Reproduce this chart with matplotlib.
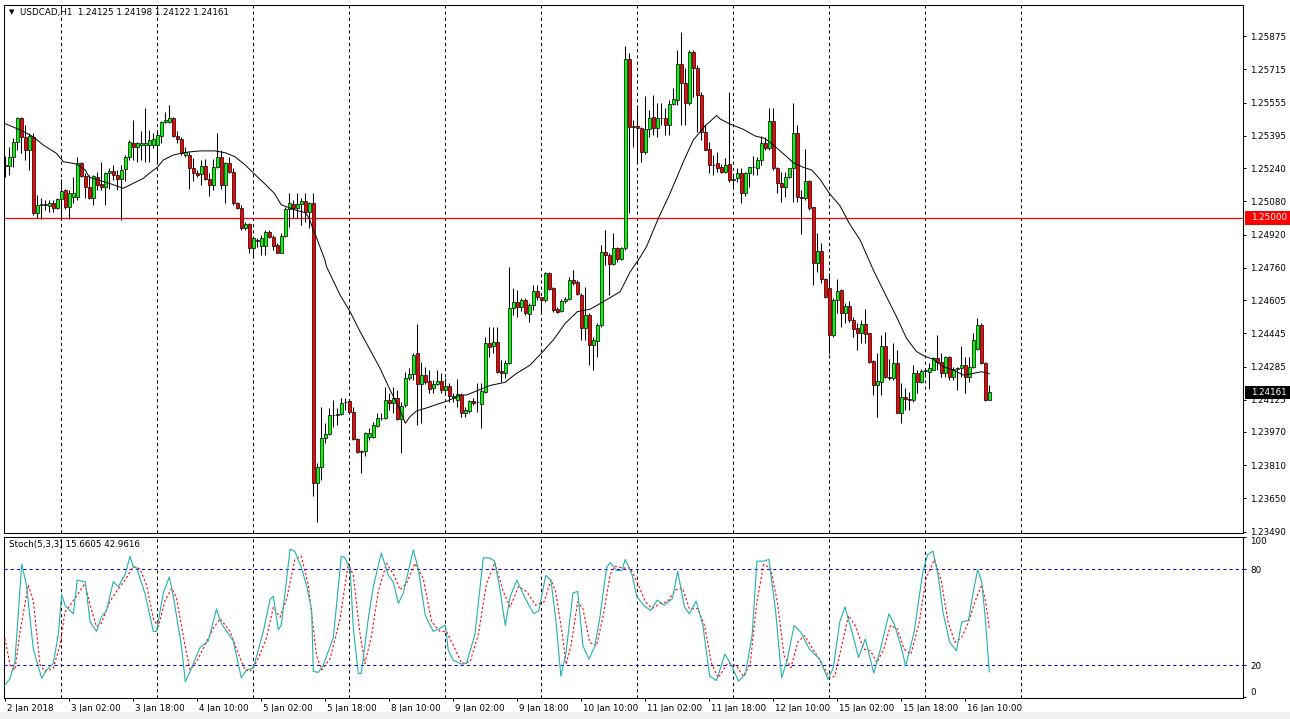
import numpy as np
import matplotlib
matplotlib.use("Agg")
import matplotlib.pyplot as plt
from matplotlib.patches import Rectangle
from matplotlib.transforms import blended_transform_factory, ScaledTranslation

plt.rcParams['font.family'] = ['DejaVu Sans']
plt.rcParams['font.size'] = 6.3

# USDCAD H1, 2 Jan 10:00 .. 16 Jan 16:00 (one entry per hourly bar)
# prices are kept in pips (0.0001) relative to the 1.25000 level
LEVEL = 1.25

open_pips = [
    25.6, 25.0, 29.2, 36.4, 48.0, 39.1, 32.7, 39.1, 2.2, 6.3,
    6.5, 5.8, 7.4, 5.0, 9.1, 13.5, 5.5, 9.9, 10.3, 26.6,
    20.2, 14.8, 9.5, 19.6, 16.2, 15.1, 21.5, 22.6, 20.7, 18.6,
    23.4, 29.5, 36.3, 34.3, 35.0, 35.1, 35.1, 35.1, 35.1, 39.6,
    46.0, 46.4, 48.0, 39.5, 37.9, 30.3, 30.3, 23.9, 21.5, 21.2,
    25.0, 18.6, 15.9, 24.4, 29.2, 15.9, 26.3, 22.3, 7.1, 4.7,
    -5.0, -2.9, -14.6, -10.6, -13.3, -13.3, -6.9, -9.0, -13.0, -16.7,
    -8.5, 4.2, 6.6, 4.7, 6.6, 8.2, 3.0, 7.1, -127.7, -119.7,
    -106.1, -104.0, -94.8, -94.8, -94.3, -88.4, -88.1, -93.5, -106.5, -112.5,
    -112.0, -105.2, -105.2, -99.9, -96.4, -96.4, -87.6, -89.0, -86.8, -96.9,
    -90.0, -77.2, -75.3, -65.2, -79.9, -75.5, -78.5, -81.9, -79.9, -78.5,
    -82.8, -80.7, -86.6, -87.6, -85.2, -93.7, -92.8, -88.1, -88.8, -89.7,
    -83.6, -60.3, -61.6, -59.5, -73.6, -74.5, -70.0, -43.5, -40.3, -43.0,
    -39.5, -46.2, -41.9, -35.0, -38.2, -39.5, -26.6, -33.9, -44.0, -44.6,
    -40.1, -39.2, -29.8, -30.8, -37.1, -53.1, -46.7, -61.1, -59.1, -51.7,
    -16.2, -17.8, -22.3, -14.6, -19.9, -14.6, 76.4, 44.0, 44.3, 43.2,
    31.9, 42.7, 48.8, 43.2, 48.0, 48.0, 44.8, 54.7, 56.8, 73.9,
    65.2, 55.2, 80.0, 72.0, 59.2, 41.6, 33.2, 25.5, 26.3, 24.4,
    22.3, 25.8, 18.3, 19.1, 21.5, 11.9, 21.5, 24.4, 23.9, 27.9,
    36.3, 33.5, 46.7, 23.9, 16.7, 15.1, 19.6, 23.9, 41.1, 10.3,
    9.5, 18.0, 5.1, -21.5, -15.9, -29.5, -33.9, -56.3, -39.5, -34.7,
    -45.9, -42.4, -49.1, -53.1, -55.2, -51.0, -55.5, -68.8, -80.4, -78.8,
    -61.6, -76.7, -77.2, -70.0, -93.7, -86.3, -87.3, -87.6, -74.8, -78.8,
    -73.5, -74.0, -73.2, -67.6, -69.5, -74.8, -66.7, -76.7, -72.8, -72.4,
    -70.8, -76.7, -71.9, -62.9, -51.5, -70.0, -87.5,
]
high_pips = [
    30.0, 34.3, 38.3, 48.8, 48.8, 44.8, 40.8, 40.8, 11.1, 9.8,
    8.7, 8.7, 8.7, 9.8, 18.8, 14.1, 13.5, 19.6, 29.5, 27.1,
    21.5, 20.7, 20.7, 22.3, 27.1, 22.3, 23.9, 25.5, 23.1, 25.5,
    30.3, 37.6, 47.2, 36.7, 41.7, 52.9, 42.4, 40.8, 42.4, 46.8,
    51.2, 54.5, 48.8, 41.7, 39.1, 34.3, 31.9, 28.7, 23.1, 27.9,
    28.6, 21.5, 28.6, 41.1, 32.7, 27.1, 29.5, 23.9, 7.9, 6.3,
    -1.8, -2.6, -9.0, -9.8, -8.2, -5.8, -5.8, -8.2, -12.2, -7.4,
    5.5, 11.9, 8.7, 11.9, 9.5, 11.9, 7.9, 11.9, -118.1, -90.8,
    -98.8, -91.6, -87.6, -91.6, -86.8, -86.8, -87.6, -90.8, -106.1, -111.7,
    -102.8, -101.2, -98.0, -94.0, -94.0, -81.2, -84.4, -81.2, -82.8, -88.4,
    -74.0, -72.4, -65.2, -51.0, -69.2, -71.6, -73.2, -78.0, -73.2, -74.8,
    -77.2, -79.6, -84.4, -77.7, -84.4, -90.8, -87.6, -86.8, -79.6, -79.6,
    -57.1, -52.3, -52.3, -52.3, -68.4, -68.4, -23.4, -33.9, -34.7, -38.7,
    -38.7, -41.1, -32.3, -32.3, -37.9, -25.8, -25.8, -33.1, -42.7, -39.1,
    -37.9, -28.2, -25.0, -29.8, -36.3, -33.1, -45.9, -57.1, -50.7, -13.0,
    -5.8, -17.0, -7.4, -13.8, -13.8, 82.8, 79.3, 47.2, 53.6, 44.0,
    58.7, 52.0, 59.2, 55.5, 55.5, 52.9, 56.8, 62.4, 80.8, 89.7,
    72.0, 80.8, 80.8, 73.6, 60.8, 44.8, 36.6, 30.3, 32.0, 26.0,
    28.7, 60.8, 21.5, 23.9, 23.9, 22.3, 24.7, 29.8, 29.5, 39.5,
    39.1, 52.8, 52.8, 24.7, 22.3, 22.3, 23.9, 55.2, 44.8, 13.5,
    33.1, 18.3, 5.5, -7.4, -12.2, -29.0, -26.3, -38.7, -29.5, -34.3,
    -41.1, -39.8, -47.5, -50.7, -49.1, -44.0, -55.2, -68.4, -65.1, -56.3,
    -54.7, -68.0, -60.3, -63.5, -79.6, -82.0, -83.8, -70.8, -73.2, -72.8,
    -72.8, -70.0, -67.1, -56.3, -65.1, -66.4, -66.4, -71.6, -71.6, -61.6,
    -66.7, -66.7, -55.2, -48.3, -50.7, -69.5, -80.2,
]
low_pips = [
    19.5, 20.7, 24.7, 32.7, 31.1, 27.9, 23.1, 1.4, -0.2, -0.5,
    3.9, 3.0, 3.0, 4.5, -0.2, 4.5, -0.6, 7.1, 8.7, 19.9,
    9.5, 9.0, 6.3, 13.5, 13.5, 6.3, 14.1, 18.3, 13.5, -1.0,
    17.6, 28.1, 28.1, 27.1, 27.9, 27.1, 27.1, 33.7, 27.1, 35.9,
    45.6, 45.6, 39.1, 35.9, 30.3, 29.5, 14.1, 17.6, 19.6, 15.9,
    18.3, 10.6, 13.5, 23.9, 14.0, 7.1, 21.5, 6.3, 4.2, -5.8,
    -5.8, -17.0, -19.4, -13.8, -17.6, -17.6, -9.8, -15.4, -17.0, -17.0,
    -9.0, -4.2, -0.2, -0.2, -3.4, -1.8, -5.0, -134.0, -146.2, -126.1,
    -108.5, -104.4, -100.4, -99.6, -94.8, -92.4, -94.0, -106.8, -113.3, -122.9,
    -114.5, -106.8, -106.1, -100.4, -97.2, -96.9, -92.4, -94.0, -97.2, -113.3,
    -90.8, -78.0, -78.0, -99.6, -98.8, -79.9, -84.4, -84.4, -80.4, -84.4,
    -84.4, -88.4, -88.4, -91.2, -95.7, -96.0, -93.7, -90.0, -93.2, -100.9,
    -84.4, -66.7, -65.1, -74.8, -78.8, -77.2, -70.3, -46.7, -47.5, -44.6,
    -46.7, -49.9, -44.3, -39.5, -45.1, -40.3, -34.7, -45.1, -45.9, -45.1,
    -40.7, -39.5, -32.3, -37.1, -58.8, -58.8, -70.8, -73.2, -66.7, -52.3,
    -22.6, -37.1, -22.6, -21.0, -20.2, -15.4, 2.2, 34.3, 27.1, 27.1,
    31.0, 38.8, 40.0, 38.8, 44.8, 40.0, 40.0, 54.4, 54.4, 44.8,
    44.8, 54.4, 58.4, 41.6, 37.6, 32.7, 21.5, 20.7, 22.3, 21.5,
    21.5, 17.5, 15.1, 17.5, 7.4, 10.6, 15.1, 20.7, 20.7, 25.5,
    32.7, 32.7, 23.1, 12.2, 7.9, 9.9, 19.1, 7.9, 7.9, -7.7,
    8.7, 3.9, -32.3, -25.8, -31.1, -38.7, -65.5, -57.1, -45.6, -52.6,
    -50.7, -50.2, -57.1, -63.5, -60.3, -60.3, -70.0, -85.2, -95.9, -85.2,
    -77.2, -78.0, -78.0, -94.0, -98.5, -92.4, -92.4, -88.4, -84.4, -79.6,
    -76.4, -82.5, -73.2, -73.2, -76.4, -76.4, -78.0, -78.0, -82.8, -76.4,
    -84.1, -78.8, -72.2, -63.5, -70.3, -88.1, -87.8,
]
close_pips = [
    25.0, 29.2, 36.4, 48.0, 39.1, 32.7, 39.5, 2.2, 6.3, 6.5,
    6.3, 7.1, 5.0, 9.1, 13.2, 5.5, 12.2, 11.9, 26.3, 20.2,
    14.8, 9.5, 20.2, 15.9, 15.1, 21.5, 22.6, 20.7, 18.6, 23.1,
    29.5, 36.7, 34.0, 36.3, 36.3, 36.3, 37.5, 37.9, 40.0, 46.0,
    47.2, 48.0, 39.5, 37.9, 31.1, 31.9, 23.9, 21.5, 20.7, 25.0,
    18.6, 15.9, 24.4, 29.2, 15.9, 26.3, 22.3, 7.1, 4.7, -5.0,
    -2.9, -14.6, -9.8, -11.2, -9.8, -6.9, -9.0, -13.3, -16.7, -8.5,
    4.2, 7.1, 4.7, 6.6, 8.2, 3.0, 7.1, -127.7, -119.7, -106.1,
    -104.0, -94.8, -95.0, -94.3, -89.2, -88.6, -93.5, -106.5, -112.5, -112.3,
    -103.6, -103.6, -99.6, -96.4, -96.2, -87.6, -88.9, -86.8, -96.9, -90.5,
    -77.2, -75.3, -66.0, -79.9, -75.5, -78.8, -82.5, -79.9, -78.5, -82.8,
    -80.7, -85.7, -85.7, -84.7, -93.7, -92.4, -88.1, -89.2, -88.4, -83.1,
    -60.3, -61.9, -59.5, -73.9, -74.5, -70.0, -43.5, -40.3, -43.0, -39.5,
    -45.9, -41.9, -35.0, -38.2, -39.5, -26.6, -34.3, -44.3, -45.1, -39.8,
    -39.2, -29.8, -31.1, -36.6, -53.1, -46.7, -61.1, -58.8, -51.7, -16.2,
    -17.8, -22.3, -14.6, -19.9, -14.6, 76.4, 44.0, 44.3, 43.2, 31.9,
    42.7, 48.3, 43.2, 48.0, 48.2, 44.8, 54.7, 57.1, 73.9, 65.2,
    55.2, 80.0, 72.0, 59.2, 41.6, 32.9, 25.5, 25.7, 24.2, 22.3,
    25.5, 18.3, 18.9, 21.5, 11.9, 21.5, 24.4, 24.7, 27.9, 36.3,
    33.5, 46.7, 23.9, 16.7, 14.8, 19.6, 23.9, 41.1, 10.3, 9.5,
    18.0, 4.7, -21.8, -15.7, -29.5, -38.2, -56.3, -39.5, -35.1, -45.9,
    -42.4, -49.1, -53.6, -55.2, -51.0, -55.8, -69.2, -80.4, -78.5, -61.6,
    -76.7, -76.9, -70.0, -93.7, -86.3, -87.3, -87.5, -74.8, -78.8, -73.5,
    -73.2, -72.4, -67.6, -69.5, -74.8, -66.7, -76.7, -72.8, -72.4, -70.8,
    -76.4, -71.6, -58.7, -51.5, -70.0, -87.6, -83.9,
]

# moving average line (bar, pips)
ma_bar = [-0.3, 3.7, 7, 9.5, 12.8, 14.5, 17.8, 20, 21, 26, 29.5, 32, 34.5, 36, 38,
          39.5, 42, 45, 48.7, 52.4, 55, 57.4, 60, 62.1, 64.75, 67.25, 69, 70.75,
          72.4, 75, 76, 77, 77.4, 79.9, 80.3, 83.7, 86.2, 88.7, 91.2, 93.7, 96.2,
          98.7, 100, 101.2, 102.8, 105.5, 108.7, 110.5, 113.7, 115.3, 118, 121.2,
          124.9, 127.8, 131.2, 134, 137, 140, 143, 146.2, 149.5, 153.7, 156.2,
          158.7, 160.3, 163.25, 166.2, 169.7, 172, 174.9, 176.6, 177.8, 178.7,
          181.2, 184.5, 187.4, 189.9, 192, 194.9, 197, 199.5, 201.6, 203.7, 206,
          208.7, 211, 213.7, 217, 220.3, 222.8, 225.3, 227.8, 230, 232, 234.5,
          237, 239.5, 242, 244.1, 246]
ma_pips = [45.6, 42.4, 39.1, 35.1, 31.1, 27.1, 26.0, 23.1, 19.6, 16.7, 14.3, 16.7,
           19.1, 21.5, 24.4, 27.9, 30.3, 31.6, 32.3, 32.3, 31.4, 29.5, 25.5, 21.5,
           16.7, 11.9, 6.3, 5.1, 3.9, 2.6, -0.2, -5.8, -7.4, -20.2, -23.4, -37.1,
           -45.1, -54.7, -63.5, -72.4, -82.8, -92.4, -98.8, -95.6, -92.9, -91.3,
           -89.2, -88.1, -85.2, -85.2, -83.1, -80.6, -79.1, -74.8, -70.8, -65.1,
           -58.7, -50.7, -45.1, -43.9, -40.3, -35.5, -26.0, -18.9, -13.8, -0.2,
           11.9, 27.9, 37.5, 44.3, 47.2, 49.3, 47.7, 45.2, 42.7, 39.5, 38.3, 35.1,
           30.3, 26.6, 24.4, 23.1, 18.6, 11.9, 5.8, -2.6, -10.6, -25.0, -37.9,
           -47.5, -57.9, -64.3, -66.7, -68.0, -71.6, -73.2, -75.6, -74.8, -74.0,
           -75.0]

# Stochastic(5,3,3): main line and signal line (bar, value)
k_bar = [-0.1, 1.2, 2.4, 4.1, 5.3, 7, 9.1, 10.3, 12, 13.25, 14.1, 15, 17, 18, 20,
         21.2, 22.8, 24, 25.3, 27, 28.25, 30, 31.2, 32, 32.8, 35, 37, 37.8, 39.5,
         41, 42, 44, 45, 46.2, 48.7, 50.75, 52.8, 54, 57, 59, 60.3, 62, 64.5, 66.2,
         67, 68.25, 69, 71.2, 72.4, 74, 75.3, 76.6, 77, 78.25, 79.5, 82, 84, 84.9,
         86.2, 87, 88.25, 89, 90.75, 92, 94, 95.75, 97, 98.25, 99.5, 102, 103.25,
         105, 107, 108.7, 110, 110.75, 112, 114, 115.3, 117.4, 119.5, 121, 122.3,
         123.5, 125, 126.2, 127.9, 130, 132.1, 133.4, 135.1, 136.4, 137.6, 138.9,
         140.2, 141.9, 143.1, 144.4, 145.9, 147.4, 148.6, 150.3, 151.2, 152.9,
         154.1, 155, 156.7, 157.9, 159.6, 161.3, 163, 164.7, 166.8, 168.1, 169.8,
         171, 172.7, 174.4, 176.1, 177.8, 179.9, 181.6, 183.3, 185, 186.7, 187.9,
         189.6, 190.9, 192.6, 194.1, 195.5, 197.2, 198.9, 201, 203.6, 205.7, 207,
         208.6, 209.9, 211.6, 213.3, 215, 217.1, 218.8, 220.9, 222.2, 223.9,
         225.1, 227.2, 229.4, 230.6, 231.9, 233.2, 234.4, 236.1, 237.8, 239.1,
         240.8, 242, 243.1, 244.1, 245, 246]
k_val = [7.5, 11.7, 22, 83, 70, 30, 11.7, 17, 21, 39, 64, 57, 52, 73, 72, 47, 41, 50,
         54, 72, 69, 77, 88, 81, 81, 64, 41, 41, 65, 75, 63, 32.5, 9.6, 16, 31, 35,
         55, 46, 35, 12, 17, 18, 41, 61, 63, 42, 45, 92.5, 91, 81, 70, 54, 16, 15.4,
         20, 37, 88, 87, 80, 43, 14.8, 14.8, 49, 69, 90, 76, 72, 58.5, 65, 92, 80,
         51, 41, 43, 45, 29, 23, 20.6, 21, 39, 87, 87, 85, 70, 44.7, 62.7, 73, 61.6,
         52, 54, 76, 73, 49, 13, 28, 65, 66, 32, 23.6, 32, 49, 80.6, 84, 79, 79, 86,
         76.4, 62.7, 57.4, 54, 60.6, 57.4, 61.6, 78.5, 56.3, 52, 60, 44.7, 13, 10.3,
         26.8, 19.4, 9.9, 14.1, 38.4, 84.9, 84.9, 86, 53.2, 12, 23.6, 44.7, 40.5, 30,
         23.6, 11, 18.3, 46.8, 56.3, 41.5, 24.6, 36.3, 15, 30, 52, 45.8, 32, 19.4,
         40.5, 78.5, 89, 91.2, 76.4, 53.2, 34.2, 28.9, 46.8, 48, 65.8, 79.6, 72.2,
         49, 15.6605]
d_bar = [-0.1, 1.2, 2.4, 3.7, 5.75, 7, 8.7, 9.9, 12, 13.7, 14.9, 16.2, 17.8, 19.9,
         21.2, 22.8, 24, 26.2, 27.8, 29.9, 32, 33.7, 35.3, 37, 38.25, 39.9, 41.6,
         42.8, 44.9, 46.2, 47.8, 49.9, 52, 53.7, 56.2, 57.8, 59.9, 61.2, 63.25,
         65.3, 67, 68.7, 70.3, 72.4, 74, 75.75, 77.8, 79.1, 81.2, 83.7, 85.75, 87,
         88.7, 89.9, 91.6, 93.25, 95.3, 97, 98.7, 100.3, 102.4, 104.5, 106.6,
         108.7, 110.3, 112, 114.1, 116.2, 118.25, 120.3, 122.4, 124.5, 126.2,
         128.3, 130.4, 132.6, 134.7, 136.4, 137.6, 139.3, 140.2, 141.4, 143.1,
         144.4, 146.1, 147.8, 149.5, 151.2, 152.4, 154.5, 156.2, 157.9, 160,
         161.7, 163.8, 165.5, 167.6, 169.3, 171, 173.1, 174.8, 176.5, 178.2,
         180.7, 182.8, 184.5, 186.2, 187.9, 189.6, 191.3, 193, 194.7, 196.4,
         198.1, 199.8, 201.9, 204, 206.1, 207.4, 209.1, 210.8, 212.5, 214.6,
         216.3, 217.9, 219.6, 221.3, 223, 224.7, 226.4, 228.5, 230.2, 232.3, 234,
         235.7, 237.4, 239.1, 240.8, 242.4, 244.1, 245.1, 246]
d_val = [36.7, 20, 17, 41, 70, 60, 20, 16, 18, 32.5, 53, 57.5, 63, 71, 57.5, 44, 46,
         60, 66, 73, 81.5, 80, 70, 49, 44, 60, 68, 62, 32.5, 17, 22, 32.5, 43, 49,
         41, 30, 17, 16, 24, 37, 56, 50, 61, 86, 88, 70, 26, 17, 24, 49, 83.5, 76,
         39, 21, 39, 66, 83.5, 77, 67, 71, 83.5, 74, 47, 41, 41, 32.5, 21, 22, 39,
         71, 84, 65.8, 56.3, 69, 65.8, 57.4, 59.5, 73.2, 65.8, 38.4, 20.4, 32,
         59.5, 55.3, 34.2, 32, 51, 76.4, 81.7, 80.6, 80.6, 72.2, 59.5, 55.3, 58.5,
         59.5, 67, 68, 55.3, 55.3, 44.7, 21.5, 12, 21.5, 19.4, 13, 20.4, 59.5,
         82.8, 80.6, 59.5, 25.7, 18.3, 34.2, 38.4, 30, 21.5, 12, 13, 32, 51, 44.7,
         30, 28.9, 21.5, 30, 44.7, 42.6, 30, 26.8, 46.8, 74.3, 85.9, 72.2, 46.8,
         34.2, 37.3, 46.8, 59.5, 70.1, 59.5, 42.9616]

price_ticks = [1.25875, 1.25715, 1.25555, 1.25395, 1.25240, 1.25080, 1.24920,
               1.24760, 1.24605, 1.24445, 1.24285, 1.24125, 1.23970, 1.23810,
               1.23650, 1.23490]
stoch_ticks = [100, 80, 20, 0]
day_start_bars = [14, 38, 62, 86, 110, 134, 158, 182, 206, 230, 254]
date_bars = list(range(0, 241, 16))
date_labels = ["2 Jan 2018", "3 Jan 02:00", "3 Jan 18:00", "4 Jan 10:00",
               "5 Jan 02:00", "5 Jan 18:00", "8 Jan 10:00", "9 Jan 02:00",
               "9 Jan 18:00", "10 Jan 10:00", "11 Jan 02:00", "11 Jan 18:00",
               "12 Jan 10:00", "15 Jan 02:00", "15 Jan 18:00", "16 Jan 10:00"]
last_price = 1.24161

o = LEVEL + np.array(open_pips) / 1e4
h = LEVEL + np.array(high_pips) / 1e4
l = LEVEL + np.array(low_pips) / 1e4
c = LEVEL + np.array(close_pips) / 1e4
bars = np.arange(len(o))

W, H = 1290, 719
fig = plt.figure(figsize=(W / 100, H / 100), dpi=100)
ax = fig.add_axes([4 / W, 1 - 533 / H, 1239 / W, 528 / H])
ax2 = fig.add_axes([4 / W, 1 - 698 / H, 1239 / W, 161 / H])

xmin, xmax = (4 - 5.3) / 4, (1243 - 5.3) / 4
ppx = 20775.0  # pixels per price unit

# main chart
ax.vlines(bars, l, h, color='black', lw=0.75, zorder=3)
cols = np.where(c >= o, '#00ff00', '#ff0000')
ax.bar(bars, c - o, bottom=o, width=0.72, color=cols, edgecolor='black',
       linewidth=0.5, zorder=4)
ax.plot(ma_bar, LEVEL + np.array(ma_pips) / 1e4, color='black', lw=0.7, zorder=5)
ax.axhline(LEVEL, color='#ff0000', lw=0.9, zorder=2)
for d in day_start_bars:
    for a in (ax, ax2):
        a.axvline(d, color='black', lw=0.75, ls=(0, (3, 3)), zorder=1)

ax.set_xlim(xmin, xmax)
ax.set_ylim(LEVEL - 315 / ppx, LEVEL + 213 / ppx)
ax.set_xticks([])
ax.yaxis.tick_right()
ax.set_yticks(price_ticks)
ax.set_yticklabels([f"{t:.5f}" for t in price_ticks])
ax.tick_params(axis='y', direction='out', length=2.5, width=0.75, pad=2.5,
               labelsize=6.3)

tr = blended_transform_factory(ax.transAxes, ax.transData)
for val, bg in ((LEVEL, '#ff0000'), (last_price, 'black')):
    ax.add_patch(Rectangle((1.0015, val - 6.5 / ppx), 0.05, 13 / ppx, transform=tr,
                           facecolor=bg, edgecolor='none', clip_on=False, zorder=10))
    ax.text(1.0065, val, f"{val:.5f}", transform=tr, color='white', va='center',
            ha='left', fontsize=6.3, zorder=11, clip_on=False)

# stochastic
ax2.plot(k_bar, k_val, color='#20b2aa', lw=0.8, zorder=4)
ax2.plot(d_bar, d_val, color='#ff0000', lw=0.8, ls=(0, (2, 2)), zorder=3)
for lv in (80, 20):
    ax2.axhline(lv, color='#0000ff', lw=0.75, ls=(0, (3, 3)), zorder=2)
ax2.set_xlim(xmin, xmax)
ax2.set_ylim(-0.6, 100)
ax2.yaxis.tick_right()
ax2.set_yticks(stoch_ticks)
ax2.set_yticklabels([str(t) for t in stoch_ticks])
ax2.tick_params(axis='y', direction='out', length=2.5, width=0.75, pad=2.5,
                labelsize=6.3)
ylab = ax2.get_yticklabels()
ylab[0].set_va('top')
ylab[-1].set_va('bottom')
ax2.set_xticks(date_bars)
ax2.set_xticklabels(date_labels)
ax2.tick_params(axis='x', direction='out', length=2.5, width=0.75, pad=1.5,
                labelsize=6.3)
shift = ScaledTranslation(2 / 100, 0, fig.dpi_scale_trans)
for t in ax2.get_xticklabels():
    t.set_ha('left')
    t.set_transform(t.get_transform() + shift)

for a in (ax, ax2):
    for s in a.spines.values():
        s.set_linewidth(0.75)
        s.set_color('black')

fig.text(9 / W, 1 - 12 / H, "\u25bc", fontsize=5, va='center', ha='left')
fig.text(20 / W, 1 - 12 / H, "USDCAD,H1  1.24125 1.24198 1.24122 1.24161",
         fontsize=6.3, va='center', ha='left')
fig.text(9 / W, 1 - 545 / H, "Stoch(5,3,3) 15.6605 42.9616", fontsize=6.3,
         va='center', ha='left')
fig.patches.append(Rectangle((0, 0), 1, 7 / H, transform=fig.transFigure,
                             facecolor='#f0f0f0', edgecolor='none'))

fig.savefig("out.png", dpi=100)
